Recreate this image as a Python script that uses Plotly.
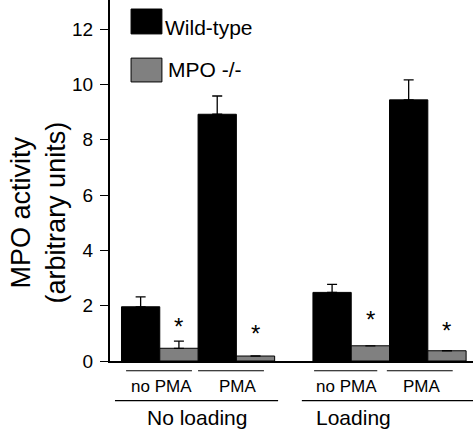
import plotly.graph_objects as go

# ---- data ----
groups = ["No loading", "Loading"]
conditions = ["no PMA", "PMA", "no PMA", "PMA"]
series_names = ["Wild-type", "MPO -/-"]
wt_values = [1.96, 8.92, 2.48, 9.44]
wt_errors = [0.36, 0.66, 0.29, 0.72]
mpo_values = [0.46, 0.18, 0.55, 0.37]
mpo_errors = [0.26, 0.0, 0.0, 0.0]
y_ticks = [0, 2, 4, 6, 8, 10, 12]

# bar positions: pairs of adjacent bars, an empty slot between loading groups
wt_x = [0, 2, 5, 7]
mpo_x = [1, 3, 6, 8]

FONT = "Liberation Sans, Arial, Helvetica, sans-serif"
GREY = "#808080"

fig = go.Figure()
fig.add_trace(go.Bar(
    x=wt_x, y=wt_values, width=1.0, name=series_names[0],
    marker=dict(color="black", line=dict(color="black", width=1)),
    error_y=dict(type="data", array=wt_errors, arrayminus=[0] * 4, symmetric=False,
                 color="black", thickness=1.3, width=5),
    showlegend=False, hoverinfo="skip",
))
fig.add_trace(go.Bar(
    x=mpo_x, y=mpo_values, width=1.0, name=series_names[1],
    marker=dict(color=GREY, line=dict(color="black", width=1)),
    error_y=dict(type="data", array=mpo_errors, arrayminus=[0] * 4, symmetric=False,
                 color="black", thickness=1.3, width=5),
    showlegend=False, hoverinfo="skip",
))

annotations = []
shapes = []

# significance asterisks above MPO bars
star_y = [1.25, 0.98, 1.51, 1.12]
for xx, yy in zip(mpo_x, star_y):
    annotations.append(dict(x=xx, y=yy, xref="x", yref="y", text="*", showarrow=False,
                            font=dict(family=FONT, size=24, color="black"),
                            xanchor="center", yanchor="middle"))

# condition labels with lines
cond_lines = [(-0.38, 1.34), (1.50, 3.22), (4.53, 6.18), (6.43, 8.15)]
cond_text_x = [0.54, 2.55, 5.37, 7.34]
for (a, b), tx, lab in zip(cond_lines, cond_text_x, conditions):
    shapes.append(dict(type="line", xref="x", yref="paper", x0=a, x1=b, y0=-0.027, y1=-0.027,
                       line=dict(color="black", width=1.2)))
    annotations.append(dict(x=tx, y=-0.072, xref="x", yref="paper", text=lab, showarrow=False,
                            font=dict(family=FONT, size=17, color="black"),
                            xanchor="center", yanchor="middle"))

group_lines = [(-0.67, 3.59), (4.21, 8.68)]
group_text_x = [1.48, 5.57]
for (a, b), tx, lab in zip(group_lines, group_text_x, groups):
    shapes.append(dict(type="line", xref="x", yref="paper", x0=a, x1=b, y0=-0.110, y1=-0.110,
                       line=dict(color="black", width=1.2)))
    annotations.append(dict(x=tx, y=-0.157, xref="x", yref="paper", text=lab, showarrow=False,
                            font=dict(family=FONT, size=21, color="black"),
                            xanchor="center", yanchor="middle"))

# legend (manual swatches)
shapes.append(dict(type="rect", xref="paper", yref="paper", x0=0.058, x1=0.143, y0=0.906, y1=0.975,
                   fillcolor="black", line=dict(color="black", width=1)))
shapes.append(dict(type="rect", xref="paper", yref="paper", x0=0.058, x1=0.143, y0=0.773, y1=0.839,
                   fillcolor=GREY, line=dict(color="black", width=1)))
annotations.append(dict(x=0.146, y=0.925, xref="paper", yref="paper", text=series_names[0],
                        showarrow=False, font=dict(family=FONT, size=21, color="black"),
                        xanchor="left", yanchor="middle"))
annotations.append(dict(x=0.154, y=0.807, xref="paper", yref="paper", text=series_names[1],
                        showarrow=False, font=dict(family=FONT, size=21, color="black"),
                        xanchor="left", yanchor="middle"))

# y-axis title
annotations.append(dict(x=-0.197, y=0.413, xref="paper", yref="paper",
                        text="MPO activity<br>(arbitrary units)", textangle=-90,
                        showarrow=False, font=dict(family=FONT, size=27, color="black"),
                        xanchor="center", yanchor="middle"))

fig.update_layout(
    width=473, height=435,
    margin=dict(l=110, r=0, t=0, b=74),
    paper_bgcolor="white", plot_bgcolor="white",
    barmode="overlay",
    showlegend=False,
    hovermode=False,
    annotations=annotations,
    shapes=shapes,
    font=dict(family=FONT, color="black"),
)
fig.update_xaxes(range=[-0.8, 8.68], showline=True, linecolor="black", linewidth=1.5,
                 showticklabels=False, ticks="", showgrid=False, zeroline=False)
fig.update_yaxes(range=[0, 13.05], tickvals=y_ticks, ticks="outside", ticklen=8, tickwidth=1.2,
                 tickcolor="black", showline=True, linecolor="black", linewidth=2,
                 showgrid=False, zeroline=False, ticklabelstandoff=3,
                 tickfont=dict(family=FONT, size=19, color="black"))

fig.write_html("out.html", config={"displayModeBar": False},
               post_script="document.body.style.margin='0';document.body.style.overflow='hidden';")
